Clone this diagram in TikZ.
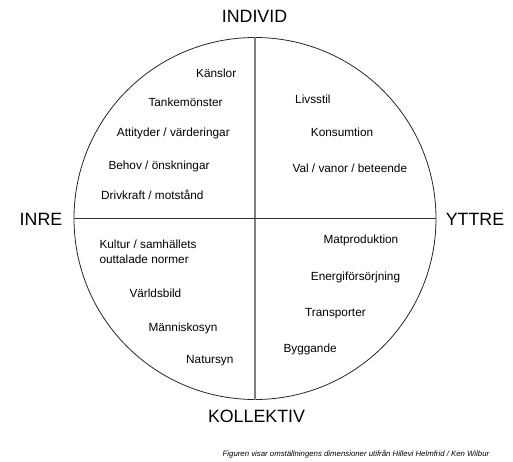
\documentclass[tikz,border=0pt]{standalone}
\usepackage{fontspec}
\setmainfont{Liberation Sans}
\begin{document}
\begin{tikzpicture}[x=1pt,y=-1pt,
  lbl/.style={anchor=base west,inner sep=0pt,font=\fontsize{11.8}{14}\selectfont},
  big/.style={anchor=base,inner sep=0pt,font=\fontsize{17.8}{20}\selectfont},
  ring/.style={draw=black!85,line width=0.8pt},
  hline/.style={draw=black!80,line width=0.9pt},
  vline/.style={draw=black!50,line width=1.6pt}]
\useasboundingbox (0,0) rectangle (513,461);
\coordinate (c) at (255,218.5);
\node[circle,ring,minimum size=362pt,inner sep=0pt] (ring) at (c) {};
\draw[vline] (ring.north) -- (ring.south);
\draw[hline] (ring.west) -- (ring.east);
\node[big] (individ) at (254.5,22.7) {INDIVID};
\node[big] (inre) at (41,225.3) {INRE};
\node[big] (yttre) at (475,225.3) {YTTRE};
\node[big] (kollektiv) at (256.5,422.7) {KOLLEKTIV};
\node[lbl] (t1) at (196,77.5) {Känslor};
\node[lbl] (t2) at (148.3,106.5) {Tankemönster};
\node[lbl] (t3) at (116.7,136.3) {Attityder / värderingar};
\node[lbl] (t4) at (108.3,169.6) {Behov / önskningar};
\node[lbl] (t5) at (101,199.3) {Drivkraft / motstånd};
\node[lbl] (t6) at (295,103) {Livsstil};
\node[lbl] (t7) at (310.7,136.3) {Konsumtion};
\node[lbl] (t8) at (292.3,172.6) {Val / vanor / beteende};
\node[lbl] (t9) at (99.3,248.6) {Kultur / samhällets};
\node[lbl] (t10) at (99.3,263) {outtalade normer};
\node[lbl] (t11) at (129.3,297.6) {Världsbild};
\node[lbl] (t12) at (148.3,331) {Människosyn};
\node[lbl] (t13) at (186,363.6) {Natursyn};
\node[lbl] (t14) at (323.3,243.6) {Matproduktion};
\node[lbl] (t15) at (310.7,280.3) {Energiförsörjning};
\node[lbl] (t16) at (305,316) {Transporter};
\node[lbl] (t17) at (283.3,352.6) {Byggande};
\node[anchor=base west,inner sep=0pt,font=\fontsize{7.8}{9}\selectfont\itshape] (foot) at (222.5,456.5) {Figuren visar omställningens dimensioner utifrån Hillevi Helmfrid / Ken Wilbur};
\end{tikzpicture}
\end{document}
